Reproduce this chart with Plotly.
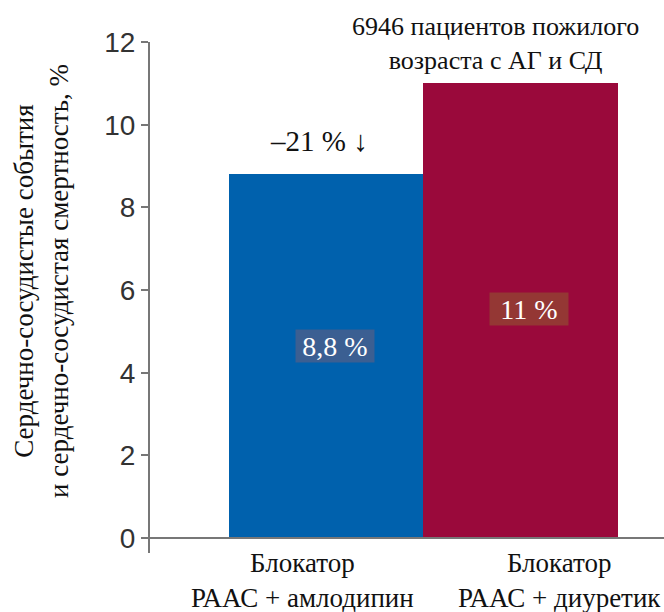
import plotly.graph_objects as go

# Data
categories = ["Блокатор<br>РААС + амлодипин", "Блокатор<br>РААС + диуретик"]
values = [8.8, 11.0]
bar_colors = ["#0061ad", "#9a093b"]
label_bg = ["#3b5f92", "#943734"]
y_ticks = [0, 2, 4, 6, 8, 10, 12]
reduction_text = "–21 % ↓"
cohort_text = "6946 пациентов пожилого<br>возраста с АГ и СД"
y_title = "Сердечно-сосудистые события<br>и сердечно-сосудистая смертность, %"

W, H = 664, 612
ML, MR, MT, MB = 150, 0, 42, 59
serif = "Liberation Serif, Times New Roman, serif"
sans = "Liberation Sans, Arial, sans-serif"


def fmt(v):
    s = f"{v:.1f}".rstrip("0").rstrip(".")
    return s.replace(".", ",") + " %"


def paper(px, py):
    """Pixel position on the page -> paper coordinates."""
    pw = W - ML - MR
    ph = H - MT - MB
    return (px - ML) / pw, (H - MB - py) / ph


def note(px, py, text, size, **kw):
    ax, ay = paper(px, py)
    fig.add_annotation(x=ax, y=ay, xref="paper", yref="paper", text=text,
                       showarrow=False, xanchor="center", yanchor="middle",
                       align="center",
                       font=dict(family=kw.pop("family", serif), size=size,
                                 color=kw.pop("color", "#111")), **kw)


x_idx = list(range(len(values)))

fig = go.Figure()
fig.add_trace(go.Bar(
    x=x_idx, y=values, width=1.0,
    marker=dict(color=bar_colors, line=dict(width=0)),
    hoverinfo="skip",
))

# value labels inside bars
label_pos = [(335, 346), (529, 309)]
for i, v in enumerate(values):
    note(*label_pos[i], fmt(v), 28, color="white", width=76, height=30,
         bgcolor=label_bg[i], valign="middle")

# category labels below the axis
cat_pos = [(302, 580), (559, 580)]
for i, c in enumerate(categories):
    note(*cat_pos[i], c, 27)

# reduction note above the first bar
note(319, 141, reduction_text, 29)

# cohort note
note(495, 43, cohort_text, 26)

# y-axis title
note(41, 281, y_title, 27, textangle=-90)

# horizontal baseline at zero
fig.add_shape(type="line", xref="paper", yref="y", x0=-0.015, x1=1.0, y0=0, y1=0,
              line=dict(color="#777", width=2))

fig.update_layout(
    width=W, height=H, margin=dict(l=ML, r=MR, t=MT, b=MB),
    paper_bgcolor="white", plot_bgcolor="white", showlegend=False, bargap=0,
    xaxis=dict(range=[-0.905, 1.736], showticklabels=False, showgrid=False,
               zeroline=False, showline=False, ticks=""),
    yaxis=dict(range=[-0.36, 12], tickvals=y_ticks, showgrid=False, zeroline=False,
               showline=True, linecolor="#777", linewidth=2,
               ticks="outside", ticklen=7, tickcolor="#777", tickwidth=1.5,
               tickfont=dict(family=sans, size=28, color="#333")),
)

fig.write_html("out.html")
